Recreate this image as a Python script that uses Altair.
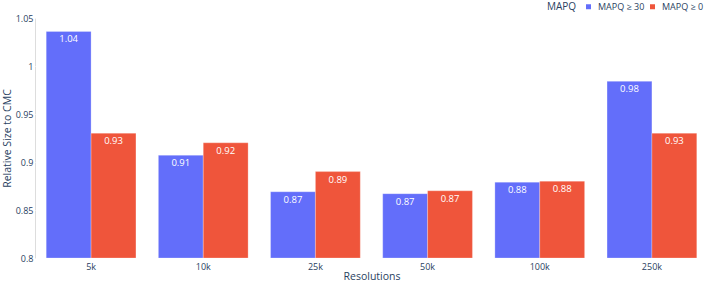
import altair as alt
import pandas as pd

resolutions = ["5k", "10k", "25k", "50k", "100k", "250k"]
mapq30 = [1.036, 0.907, 0.869, 0.867, 0.879, 0.984]
mapq0 = [0.930, 0.920, 0.890, 0.870, 0.880, 0.930]
series = ["MAPQ ≥ 30", "MAPQ ≥ 0"]
colors = ["#636EFA", "#EF553B"]
y_ticks = [0.8, 0.85, 0.9, 0.95, 1.0, 1.05]

rows = []
for r, a, b in zip(resolutions, mapq30, mapq0):
    rows.append({"Resolution": r, "MAPQ": series[0], "value": a})
    rows.append({"Resolution": r, "MAPQ": series[1], "value": b})
df = pd.DataFrame(rows)

FONT = "Open Sans"
TXT = "#2a3f5f"

base = alt.Chart(df).encode(
    x=alt.X("Resolution:N", sort=resolutions,
            scale=alt.Scale(paddingInner=0.2, paddingOuter=0.1),
            axis=alt.Axis(title="Resolutions", labelAngle=0, ticks=False, domain=False,
                          grid=False, labelFontSize=9, labelColor=TXT, labelPadding=4,
                          titleFontSize=10.5, titleColor=TXT, titleFontWeight="normal",
                          titlePadding=0, labelFont=FONT, titleFont=FONT)),
    xOffset=alt.XOffset("MAPQ:N", sort=series, scale=alt.Scale(domain=series)),
    y=alt.Y("value:Q", scale=alt.Scale(domain=[0.8, 1.05], clamp=True, nice=False, zero=False),
            axis=alt.Axis(title="Relative Size to CMC", values=y_ticks, format="~g",
                          ticks=False, domain=False, gridColor="white", gridWidth=1,
                          labelFontSize=9, labelColor=TXT, labelPadding=2,
                          titleFontSize=10.5, titleColor=TXT, titleFontWeight="normal",
                          titlePadding=3, labelFont=FONT, titleFont=FONT)),
)

bars = base.mark_bar(stroke="white", strokeWidth=0.5, strokeOpacity=0.5, clip=True).encode(
    color=alt.Color("MAPQ:N", sort=series,
                    scale=alt.Scale(domain=series, range=colors),
                    legend=alt.Legend(orient="none", legendX=512, legendY=-16,
                                      direction="horizontal", titleOrient="left",
                                      title="MAPQ", titleFontSize=10, titleColor=TXT,
                                      titleFont=FONT, titleFontWeight="normal",
                                      titlePadding=7, labelFontSize=9, labelColor=TXT,
                                      labelFont=FONT, symbolType="square", symbolSize=25,
                                      symbolStrokeWidth=0, labelOffset=5, columnPadding=3,
                                      padding=0, titleBaseline="top", titleAnchor="start")),
)

labels = base.mark_text(baseline="top", dy=3, color="white", fontSize=9.5, font=FONT).encode(
    text=alt.Text("value:Q", format=".2f"),
)

chart = (bars + labels).properties(
    width=673, height=240,
    autosize=alt.AutoSizeParams(type="none"),
    padding={"left": 35, "top": 18, "right": 0, "bottom": 24},
    background="white",
).configure_view(fill="#E5ECF6", stroke="transparent").configure(font=FONT)

chart.save("out.html", embed_options={"renderer": "svg", "actions": False})
